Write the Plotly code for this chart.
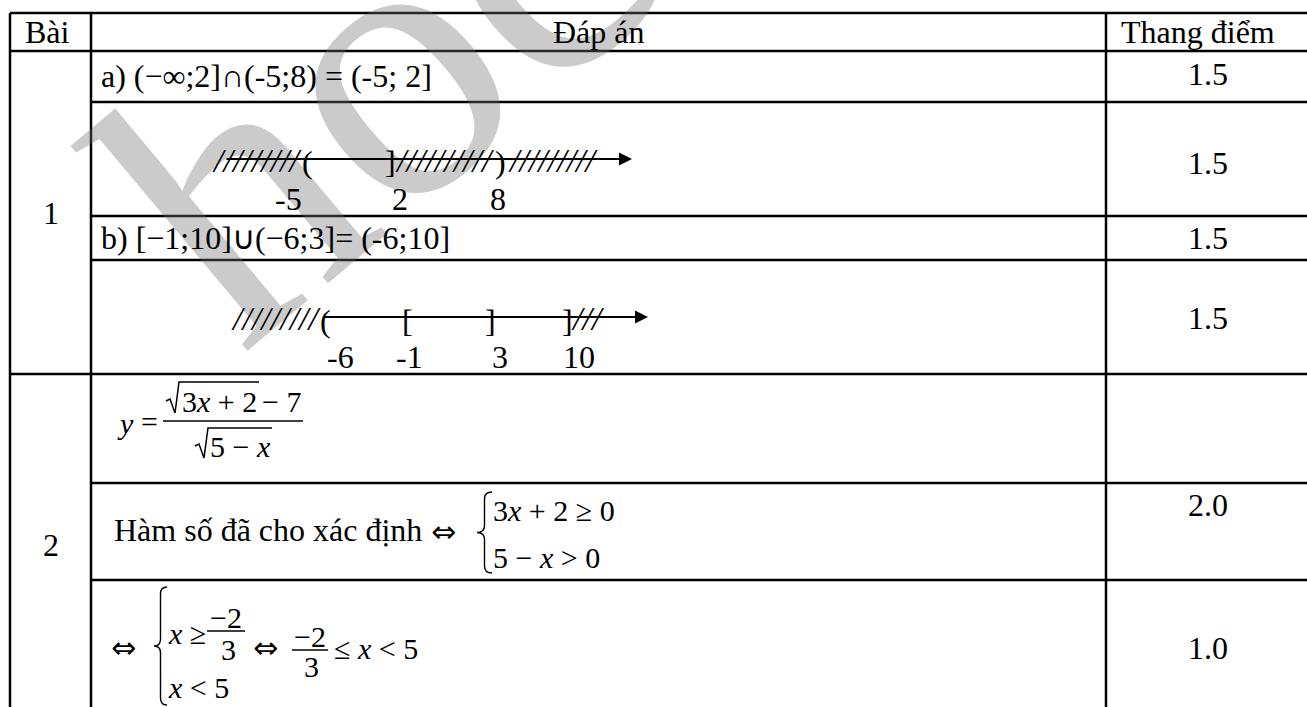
"""Answer key table (Bài / Đáp án / Thang điểm) redrawn with plotly shapes and annotations."""

import plotly.graph_objects as go

# ---- table content ----
headers = ["Bài", "Đáp án", "Thang điểm"]
problem_ids = ["1", "2"]
answer_a = "a) (−∞;2]∩(-5;8) = (-5; 2]"
answer_b = "b) [−1;10]∪(−6;3]= (-6;10]"
domain_text = "Hàm số đã cho xác định"
scores = ["1.5", "1.5", "1.5", "1.5", "", "2.0", "1.0"]

# number lines: value labels, bracket glyph at each value, hatch counts per segment
line1_labels = ["-5", "2", "8"]
line1_brackets = ["(", "]", ")"]
line1_hatches = [9, 10, 9]
line2_labels = ["-6", "-1", "3", "10"]
line2_brackets = ["(", "[", "]", "]"]
line2_hatches = [9, 3]

watermark = "hoc"

# ---- page geometry (pixels) ----
W, H = 1307, 707
COL_X = [10, 91, 1106]
ROW_Y = [13, 51, 102, 216, 260, 374, 483, 580]
SCORE_X = 1208
SCORE_Y = [74, 163, 238, 318, 428, 505, 648]

SERIF = "Liberation Serif, serif"
ARROWS = "DejaVu Sans"
FS = 32   # body text
FM = 30   # math

fig = go.Figure()


def txt(x, y, s, size=FS, anchor="center", color="black", angle=0, family=SERIF):
    fig.add_annotation(
        x=x, y=y, text=s, showarrow=False, xanchor=anchor, yanchor="middle",
        font=dict(family=family, size=size, color=color), textangle=angle,
    )


def hline(y, x0, x1, w=2.5):
    fig.add_shape(type="line", x0=x0, x1=x1, y0=y, y1=y, line=dict(color="black", width=w))


def vline(x, y0, y1, w=2.5):
    fig.add_shape(type="line", x0=x, x1=x, y0=y0, y1=y1, line=dict(color="black", width=w))


def brace(x_tip, x_end, y_top, y_bot, w=1.4):
    xm = (x_tip + x_end) / 2
    ym = (y_top + y_bot) / 2
    r = 7
    path = (
        f"M {x_end},{y_top} Q {xm},{y_top} {xm},{y_top + r} L {xm},{ym - r} "
        f"Q {xm},{ym} {x_tip},{ym} Q {xm},{ym} {xm},{ym + r} L {xm},{y_bot - r} "
        f"Q {xm},{y_bot} {x_end},{y_bot}"
    )
    fig.add_shape(type="path", path=path, line=dict(color="black", width=w))


def radical(x0, y_top, y_bot, x_end, w=1.5):
    ym = y_bot - 12
    path = (
        f"M {x0},{ym} L {x0 + 4},{ym - 2} L {x0 + 9},{y_bot} "
        f"L {x0 + 13},{y_top} L {x_end},{y_top}"
    )
    fig.add_shape(type="path", path=path, line=dict(color="black", width=w))


def arrow(x0, x1, y):
    fig.add_annotation(
        x=x1, y=y, ax=x0, ay=y, axref="x", ayref="y", text="", showarrow=True,
        arrowhead=2, arrowsize=1.3, arrowwidth=2, arrowcolor="black",
        standoff=0, startstandoff=0,
    )


# watermark first so everything else sits on top of it
txt(372, 74, watermark, size=390, color="rgba(110,110,110,0.36)", angle=-40)

# ---- grid ----
for x in COL_X:
    vline(x, ROW_Y[0], H)
for y in ROW_Y:
    full = y in (ROW_Y[0], ROW_Y[1], ROW_Y[5])
    hline(y, COL_X[0] if full else COL_X[1], W)

# ---- header ----
txt(23, 32, headers[0], anchor="left")
txt((COL_X[1] + COL_X[2]) / 2, 32, headers[1])
txt(1198, 32, headers[2])

txt((COL_X[0] + COL_X[1]) / 2, (ROW_Y[1] + ROW_Y[5]) / 2, problem_ids[0])
txt((COL_X[0] + COL_X[1]) / 2, 545, problem_ids[1])

for s, y in zip(scores, SCORE_Y):
    if s:
        txt(SCORE_X, y, s)

# ---- problem 1 ----
txt(99, 76, answer_a, anchor="left")
txt(99, 238, answer_b, anchor="left")

# number line a)
y1 = 159
arrow(225, 632, y1)
for s, x in zip(line1_brackets, [307, 390, 500]):
    txt(x, y1 + 3, s)
for n, x in zip(line1_hatches, [257, 445, 553]):
    txt(x, y1 + 1, "<i>" + "/" * n + "</i>", size=34)
for s, x in zip(line1_labels, [288, 400, 498]):
    txt(x, 199, s)

# number line b)
y2 = 317
arrow(322, 648, y2)
for s, x in zip(line2_brackets, [325, 407, 490, 567]):
    txt(x, y2 + 4, s)
for n, x in zip(line2_hatches, [276, 588]):
    txt(x, y2 + 1, "<i>" + "/" * n + "</i>", size=34)
for s, x in zip(line2_labels, [340, 409, 500, 579]):
    txt(x, 357, s)

# ---- problem 2 ----
# y = (sqrt(3x+2) - 7) / sqrt(5-x)
txt(125, 423, "<i>y</i>", size=FM)
txt(149, 421, "=", size=FM)
radical(166, 382, 413, 259)
txt(219, 401, "3<i>x</i> + 2", size=FM)
txt(281, 401, "− 7", size=FM)
hline(421, 163, 303, w=1.5)
radical(195, 428, 458, 272)
txt(240, 446, "5 − <i>x</i>", size=FM)

txt(112, 530, domain_text, anchor="left")
txt(443, 531, "⇔", size=30, family=ARROWS)
brace(477, 492, 492, 573)
txt(491, 510, "3<i>x</i> + 2 ≥ 0", size=FM, anchor="left")
txt(491, 557, "5 − <i>x</i> > 0", size=FM, anchor="left")

txt(123, 647, "⇔", size=30, family=ARROWS)
brace(154, 167, 587, 705)
txt(166, 633, "<i>x</i> ≥", size=FM, anchor="left")
txt(226, 617, "−2", size=FM)
hline(631, 207, 245, w=1.5)
txt(228, 649, "3", size=FM)
txt(166, 687, "<i>x</i> < 5", size=FM, anchor="left")
txt(265, 647, "⇔", size=30, family=ARROWS)
txt(310, 636, "−2", size=FM)
hline(650, 292, 328, w=1.5)
txt(311, 666, "3", size=FM)
txt(332, 648, "≤ <i>x</i> < 5", size=FM, anchor="left")

fig.update_xaxes(range=[0, W], visible=False, fixedrange=True)
fig.update_yaxes(range=[H, 0], visible=False, fixedrange=True)
fig.update_layout(
    width=W, height=H, margin=dict(l=0, r=0, t=0, b=0),
    plot_bgcolor="white", paper_bgcolor="white", showlegend=False,
)

fig.write_html(
    "out.html",
    config={"displayModeBar": False, "staticPlot": True},
    post_script="document.body.style.margin='0';document.body.style.overflow='hidden';",
)
